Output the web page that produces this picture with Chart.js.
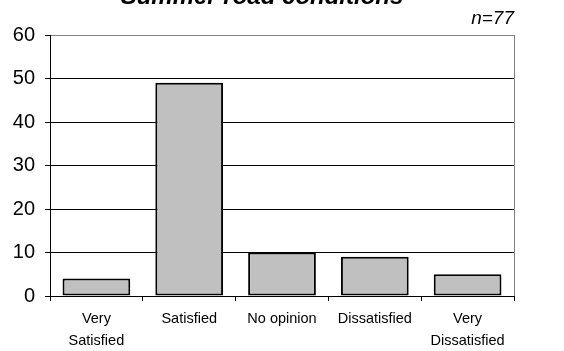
<!DOCTYPE html>
<html>
<head>
<meta charset="utf-8">
<script src="https://cdn.jsdelivr.net/npm/chart.js@4/dist/chart.umd.min.js"></script>
<style>
  html, body { margin: 0; padding: 0; background: #fff; }
  #wrap { width: 564px; height: 351px; position: relative; }
</style>
</head>
<body>
<div id="wrap"><canvas id="roadChart"></canvas></div>
<script>
const categories = [['Very', 'Satisfied'], 'Satisfied', 'No opinion', 'Dissatisfied', ['Very', 'Dissatisfied']];
const responses = [4, 49, 10, 9, 5];
const chartTitle = 'Summer road conditions';
const sampleNote = 'n=77';

// titre coupé en haut + n=77 + bordure droite grise
const extras = {
  id: 'extras',
  afterDraw(chart) {
    const { ctx, chartArea } = chart;
    ctx.save();
    ctx.fillStyle = '#000';
    ctx.textAlign = 'center';
    ctx.textBaseline = 'alphabetic';
    ctx.font = 'italic bold 24px Arial, "Liberation Sans", sans-serif';
    ctx.fillText(chartTitle, 262, 4);
    ctx.textAlign = 'right';
    ctx.font = 'italic 19px Arial, "Liberation Sans", sans-serif';
    ctx.fillText(sampleNote, chartArea.right, 24);
    ctx.strokeStyle = '#808080';
    ctx.lineWidth = 1;
    ctx.beginPath();
    ctx.moveTo(chartArea.right + 0.5, chartArea.top);
    ctx.lineTo(chartArea.right + 0.5, chartArea.bottom);
    ctx.stroke();
    ctx.restore();
  }
};

new Chart(document.getElementById('roadChart').getContext('2d'), {
  type: 'bar',
  data: {
    labels: categories,
    datasets: [{
      data: responses,
      backgroundColor: '#c0c0c0',
      borderColor: '#000',
      borderWidth: 2,
      borderSkipped: false,
      categoryPercentage: 0.73,
      barPercentage: 1
    }]
  },
  options: {
    responsive: true,
    maintainAspectRatio: false,
    animation: false,
    layout: { padding: { top: 35, right: 50, bottom: 0, left: 0 } },
    plugins: {
      legend: { display: false },
      tooltip: { enabled: false }
    },
    scales: {
      y: {
        min: 0,
        max: 60,
        afterFit(scale) { scale.width = 50; },
        ticks: {
          stepSize: 10,
          color: '#000',
          padding: 10,
          font: { family: 'Arial, "Liberation Sans", sans-serif', size: 20 }
        },
        grid: {
          color: (c) => c.tick && c.tick.value === 60 ? '#808080' : '#000',
          tickColor: '#000',
          tickLength: 5
        },
        border: { color: '#000', width: 1 }
      },
      x: {
        offset: true,
        ticks: {
          color: '#000',
          padding: 7,
          maxRotation: 0,
          font: { family: 'Arial, "Liberation Sans", sans-serif', size: 14.5, lineHeight: 1.5 }
        },
        grid: {
          offset: true,
          drawOnChartArea: false,
          color: '#000',
          tickLength: 5
        },
        border: { color: '#000', width: 1 },
        afterFit(scale) { scale.height = 55; }
      }
    }
  },
  plugins: [extras]
});
</script>
</body>
</html>
